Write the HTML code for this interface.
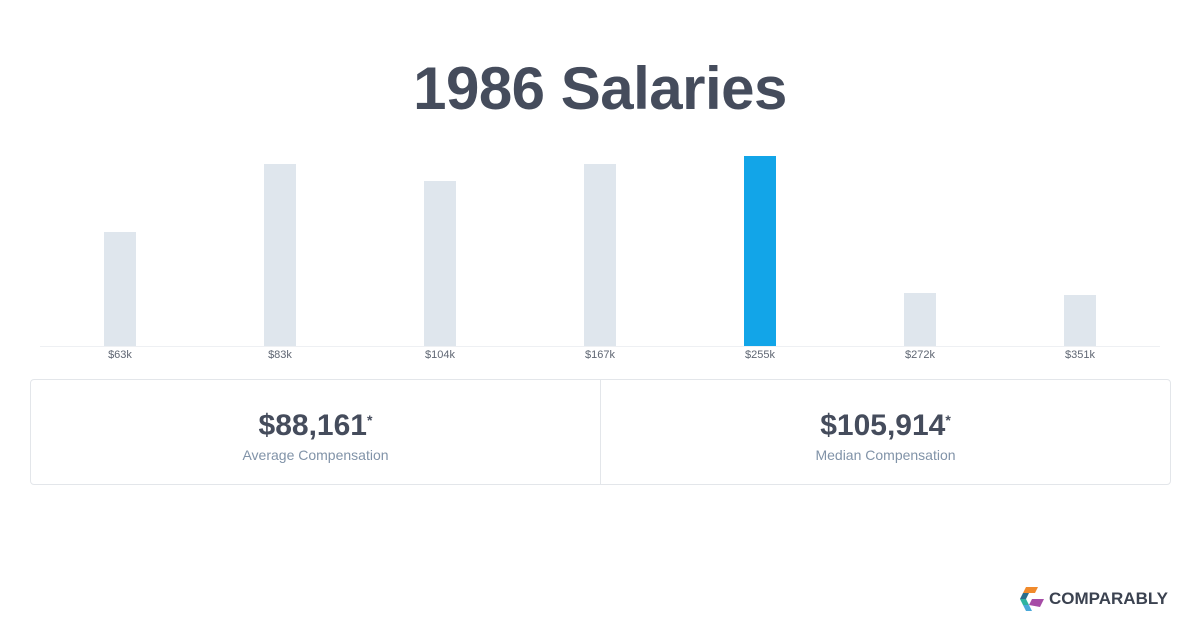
<!DOCTYPE html>
<html><head><meta charset="utf-8"><style>
body{margin:0;width:1200px;height:630px;background:#fff;font-family:"Liberation Sans",sans-serif;position:relative;overflow:hidden}
#title{position:absolute;top:54px;left:0;width:1200px;text-align:center;font-size:60px;font-weight:bold;color:#454c5c;letter-spacing:-0.5px}
.card{position:absolute;top:379px;height:106px;border:1px solid #e3e6ea;box-sizing:border-box;text-align:center}
.val{margin-top:29px;font-size:30px;font-weight:bold;color:#454c5c}
.val sup{font-size:14px;vertical-align:10px}
.lbl{margin-top:4px;font-size:14px;color:#8193a8}
</style></head><body>
<div id="title">1986 Salaries</div>
<svg id="chart" width="1200" height="370" style="position:absolute;left:0;top:0"></svg>
<div class="card" style="left:30px;width:571px;border-radius:4px 0 0 4px"><div class="val">$88,161<sup>*</sup></div><div class="lbl">Average Compensation</div></div>
<div class="card" style="left:600px;width:571px;border-radius:0 4px 4px 0"><div class="val">$105,914<sup>*</sup></div><div class="lbl">Median Compensation</div></div>
<div style="position:absolute;left:1020px;top:587px;display:flex;align-items:center">
<svg width="26" height="24" viewBox="0 0 26 24"><polygon points="6,0 18,0 15,6 3,6" fill="#f08a2c"/><polygon points="3,6 9,6 6,12 0,12" fill="#2b6e8c"/><polygon points="0,12 6,12 9,18 3,18" fill="#2eb3a0"/><polygon points="3,18 9,18 12,24 6,24" fill="#4aa8d8"/><polygon points="12,12 24,12 20,20 9,18" fill="#a64ca6"/></svg>
<span style="margin-left:3px;font-size:17px;font-weight:bold;color:#3b4250">COMPARABLY</span></div>
<script>
const categories=["$63k","$83k","$104k","$167k","$255k","$272k","$351k"];
const counts=[114,182,165,182,190,53,51];
const highlight=[false,false,false,false,true,false,false];
const svg=document.getElementById('chart');const NS='http://www.w3.org/2000/svg';
const base=346,x0=120,step=160,bw=32,yMax=190,hMax=190;
const y=v=>base-v/yMax*hMax;const x=i=>x0+i*step;
const ax=document.createElementNS(NS,'line');


ax.setAttribute('x1',40);ax.setAttribute('x2',1160);ax.setAttribute('y1',base+0.5);ax.setAttribute('y2',base+0.5);ax.setAttribute('stroke','#eef0f3');svg.appendChild(ax);
categories.forEach((c,i)=>{
const r=document.createElementNS(NS,'rect');


r.setAttribute('x',x(i)-bw/2);r.setAttribute('y',y(counts[i]));r.setAttribute('width',bw);r.setAttribute('height',base-y(counts[i]));r.setAttribute('fill',highlight[i]?'#12a5e8':'#dfe6ed');svg.appendChild(r);
const t=document.createElementNS(NS,'text');


t.setAttribute('x',x(i));t.setAttribute('y',358);t.setAttribute('text-anchor','middle');t.setAttribute('font-size','11');t.setAttribute('fill','#5f6673');t.setAttribute('font-family','Liberation Sans, sans-serif');t.textContent=c;svg.appendChild(t);
});
</script>
</body></html>
